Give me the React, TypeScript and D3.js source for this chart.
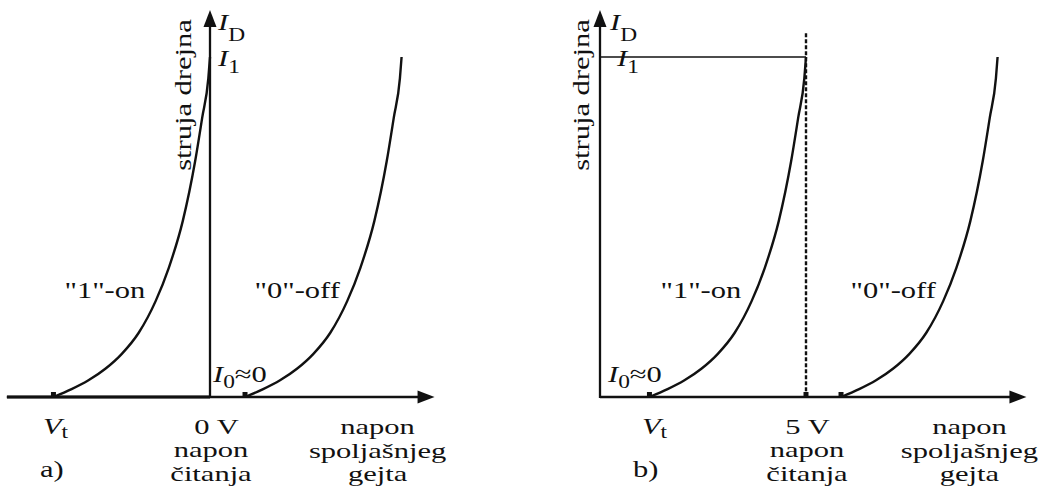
import React from "react";
import * as d3 from "d3";

// Transfer characteristic of a floating-gate cell, shared by both panels:
// gate overdrive above threshold (V) and drain current relative to I1.
const overdrive = [0, 0.44, 0.85, 1.26, 1.66, 2.07, 2.48, 2.8, 3.14, 3.44, 3.61, 3.76, 3.8];
const drainCurrent = [0, 0.023, 0.049, 0.083, 0.127, 0.189, 0.282, 0.38, 0.518, 0.694, 0.821, 0.938, 1.0];

// Per-panel values: a) read at 0 V, b) read at 5 V
const panelNames = ["a)", "b)"];
const readLabels = ["0 V", "5 V"];
const readVoltage = [0, 5];
const thresholdOn = [-3.8, 1.2];
const thresholdOff = [0.85, 5.85];
const xAxisStart = [-4.93, 0];
const xAxisEnd = [5.45, 10.35];

const currentI1 = 1;
const yAxisTop = 1.138;
const readLineTop = 1.07;

const yAxisTitle = "struja drejna";
const xAxisTitle = ["napon", "spoljašnjeg", "gejta"];
const readTitle = ["napon", "čitanja"];
const onLabel = '"1"-on';
const offLabel = '"0"-off';

const FONT = '"Liberation Serif", "Times New Roman", "DejaVu Serif", serif';
const INK = "#111";
const FS = 21.5;
const SUB = 16.5;
const SX = 1.42;
const PX_PER_5V = 206;

type TProps = {
  x: number;
  y: number;
  anchor?: "start" | "middle" | "end";
  rotate?: number;
  sy?: number;
  children: React.ReactNode;
};

function T({ x, y, anchor = "start", rotate = 0, sy = 1.1, children }: TProps) {
  return (
    <text
      transform={`translate(${x},${y})${rotate ? ` rotate(${rotate})` : ""} scale(${SX},${sy})`}
      textAnchor={anchor}
      fontSize={FS}
      style={{ fontFamily: FONT }}
      fill={INK}
    >
      {children}
    </text>
  );
}

type Layout = {
  originX: number;
  idDx: number;
  i1Dx: number;
  titleX: number;
  i0Dx: number;
  vtDx: number;
  readDx: number;
  nameX: number;
  thickLeft: boolean;
};

const layouts: Layout[] = [
  { originX: 210, idDx: 8, i1Dx: 8, titleX: 191, i0Dx: 3, vtDx: -10.5, readDx: 6.5, nameX: 40, thickLeft: true },
  { originX: 600, idDx: 10, i1Dx: 17, titleX: 589, i0Dx: 8, vtDx: -7.5, readDx: 1.5, nameX: 633, thickLeft: false },
];

function Panel({ i }: { i: number }) {
  const L = layouts[i];
  const x = d3.scaleLinear().domain([0, 5]).range([L.originX, L.originX + PX_PER_5V]);
  const y = d3.scaleLinear().domain([0, currentI1]).range([397, 57]);
  const line = d3
    .line<[number, number]>()
    .x((d) => x(d[0]))
    .y((d) => y(d[1]))
    .curve(d3.curveMonotoneX);

  const curveFrom = (vt: number) =>
    overdrive.map((v, k) => [vt + v, drainCurrent[k]] as [number, number]);

  const y0 = y(0);
  const ox = L.originX;
  const xTip = x(xAxisEnd[i]);
  const yTip = y(yAxisTop);
  const xr = x(readVoltage[i]);
  const colX = xr + 1;
  const rightCol = xTip - 57;

  const marks = [thresholdOn[i], thresholdOff[i]];
  if (i === 1) marks.push(readVoltage[i]);

  return (
    <g>
      {/* axes */}
      <line x1={x(xAxisStart[i])} y1={y0} x2={xTip - 10} y2={y0} stroke={INK} strokeWidth={2.3} />
      {L.thickLeft && (
        <line x1={x(xAxisStart[i])} y1={y0} x2={ox} y2={y0} stroke={INK} strokeWidth={3.2} />
      )}
      <path d={`M${xTip},${y0} L${xTip - 17},${y0 - 6.5} L${xTip - 17},${y0 + 6.5} Z`} fill={INK} />
      <line x1={ox} y1={y0 + 1} x2={ox} y2={yTip + 10} stroke={INK} strokeWidth={2.3} />
      <path d={`M${ox},${yTip} L${ox - 6.5},${yTip + 17} L${ox + 6.5},${yTip + 17} Z`} fill={INK} />

      {/* read voltage guides */}
      {i === 1 && (
        <g>
          <line x1={ox} y1={y(currentI1)} x2={xr} y2={y(currentI1)} stroke={INK} strokeWidth={1.3} />
          <line
            x1={xr}
            y1={y(readLineTop)}
            x2={xr}
            y2={y0}
            stroke={INK}
            strokeWidth={2.4}
            strokeDasharray="4,2"
          />
        </g>
      )}

      {/* characteristics */}
      <path d={line(curveFrom(thresholdOn[i])) ?? ""} fill="none" stroke={INK} strokeWidth={2.4} />
      <path d={line(curveFrom(thresholdOff[i])) ?? ""} fill="none" stroke={INK} strokeWidth={2.4} />

      {marks.map((v, k) => (
        <rect key={k} x={x(v) - 2.5} y={y0 - 5} width={5} height={5} fill={INK} />
      ))}

      {/* labels */}
      <T x={L.titleX} y={95} anchor="middle" rotate={-90} sy={1.1}>
        {yAxisTitle}
      </T>
      <T x={ox + L.idDx} y={30}>
        <tspan fontStyle="italic">I</tspan>
        <tspan fontSize={SUB} dy={10}>D</tspan>
      </T>
      <T x={ox + L.i1Dx} y={66}>
        <tspan fontStyle="italic">I</tspan>
        <tspan fontSize={SUB} dy={6}>1</tspan>
      </T>
      <T x={ox + L.i0Dx} y={382}>
        <tspan fontStyle="italic">I</tspan>
        <tspan fontSize={SUB} dy={5}>0</tspan>
        <tspan dy={-5}>≈0</tspan>
      </T>
      <T x={x(thresholdOn[i]) + L.vtDx} y={434}>
        <tspan fontStyle="italic">V</tspan>
        <tspan fontSize={SUB} dy={4}>t</tspan>
      </T>
      <T x={x(thresholdOn[i]) + 11} y={298}>
        {onLabel}
      </T>
      <T x={x(thresholdOff[i]) + 9.5} y={298}>
        {offLabel}
      </T>
      <T x={xr + L.readDx} y={434} anchor="middle" sy={1}>
        {readLabels[i]}
      </T>
      {readTitle.map((s, k) => (
        <T key={s} x={colX} y={457 + k * 24} anchor="middle" sy={1}>
          {s}
        </T>
      ))}
      {xAxisTitle.map((s, k) => (
        <T key={s} x={rightCol} y={434 + k * 23.5} anchor="middle" sy={1}>
          {s}
        </T>
      ))}
      <T x={L.nameX} y={477}>
        {panelNames[i]}
      </T>
    </g>
  );
}

export default function App() {
  return (
    <svg
      width={1044}
      height={494}
      viewBox="0 0 1044 494"
      style={{ position: "absolute", left: 0, top: 0, background: "#fff", display: "block" }}
    >
      <rect width={1044} height={494} fill="#fff" />
      <Panel i={0} />
      <Panel i={1} />
    </svg>
  );
}
